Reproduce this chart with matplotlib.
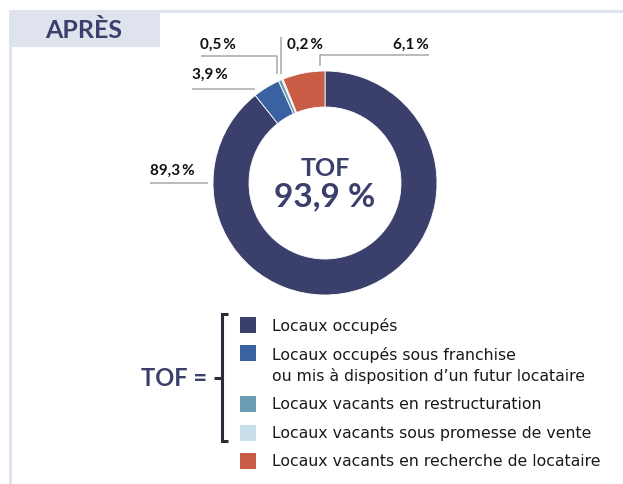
import matplotlib
matplotlib.use("Agg")
import matplotlib.pyplot as plt
from matplotlib.patches import Rectangle

# ---- data ----
categories = [
    "Locaux occupés",
    "Locaux occupés sous franchise\nou mis à disposition d’un futur locataire",
    "Locaux vacants en restructuration",
    "Locaux vacants sous promesse de vente",
    "Locaux vacants en recherche de locataire",
]
values = [89.3, 3.9, 0.5, 0.2, 6.1]
value_labels = ["89,3\u2009%", "3,9\u2009%", "0,5\u2009%", "0,2\u2009%", "6,1\u2009%"]
colors = ["#3b3f6b", "#3a62a0", "#6a9db3", "#c8dfe9", "#c95c45"]
title = "APRÈS"
center_title = "TOF"
center_value = "93,9 %"

W, H = 623, 485
FONT = "Lato"
LEG_FONT = "DejaVu Sans"
NAVY = "#3b3f6b"
FRAME = "#dfe3ee"

fig = plt.figure(figsize=(W / 100, H / 100), dpi=100)
ax = fig.add_axes([0, 0, 1, 1])
ax.set_xlim(0, W)
ax.set_ylim(0, H)
ax.set_aspect("equal")
ax.axis("off")


def Y(y):
    return H - y


# frame
ax.add_patch(Rectangle((9, Y(48)), 151, 37, color=FRAME, lw=0, zorder=1))
ax.add_patch(Rectangle((9, Y(14)), W - 9, 3, color=FRAME, lw=0, zorder=1))
ax.add_patch(Rectangle((9, 0), 3, Y(11), color=FRAME, lw=0, zorder=1))
ax.text(84, Y(30), title, ha="center", va="center", fontsize=18,
        fontweight="bold", color=NAVY, family=FONT)

# donut
cx, cy, R, r = 325, 184, 112, 76
ax.pie(values, colors=colors, startangle=90, counterclock=False,
       center=(cx, Y(cy)), radius=R, frame=True,
       wedgeprops=dict(width=R - r, linewidth=0.6, edgecolor="white"))
ax.set_xlim(0, W)
ax.set_ylim(0, H)
ax.axis("off")

ax.text(cx, Y(168), center_title, ha="center", va="center", fontsize=18,
        fontweight="bold", color=NAVY, family=FONT)
ax.text(cx, Y(197), center_value, ha="center", va="center", fontsize=24,
        fontweight="bold", color=NAVY, family=FONT)

# leader lines and labels (pixel layout)
LC = "#a8a8a8"
leaders = [
    [(150, 184), (208, 184)],
    [(192, 90), (255, 90)],
    [(201, 57), (277, 57), (277, 75)],
    [(281, 38), (281, 75)],
    [(429, 56), (320, 56), (320, 67)],
]
label_pos = [(150, 171, "left"), (192, 75, "left"), (200, 45, "left"),
             (287, 45, "left"), (429, 45, "right")]
for pts, (lx, ly, ha), lab in zip(leaders, label_pos, value_labels):
    xs = [p[0] for p in pts]
    ys = [Y(p[1]) for p in pts]
    ax.plot(xs, ys, color=LC, lw=1.1, solid_capstyle="butt", zorder=3)
    ax.text(lx, Y(ly), lab, ha=ha, va="center", fontsize=11,
            fontweight="bold", color="#111111", family=FONT)

# legend
row_y = [326, 354, 405, 434, 462]
text_y = [326, 365.5, 405, 434, 462]
for c, cat, ry, ty in zip(colors, categories, row_y, text_y):
    ax.add_patch(Rectangle((240, Y(ry) - 8), 16, 16, color=c, lw=0))
    ax.text(272, Y(ty), cat, ha="left", va="center", fontsize=11.3,
            color="#1a1a1a", family=LEG_FONT, linespacing=1.35)

# bracket
BC = "#2b2b3a"
ax.plot([228, 222, 222, 228], [Y(315), Y(315), Y(442), Y(442)], color=BC,
        lw=2.2, solid_joinstyle="miter", solid_capstyle="butt")
ax.plot([214, 222], [Y(379), Y(379)], color=BC, lw=2.2, solid_capstyle="butt")
ax.text(207, Y(379), "TOF =", ha="right", va="center", fontsize=17,
        fontweight="bold", color=NAVY, family=FONT)

fig.savefig("out.png", dpi=100)
